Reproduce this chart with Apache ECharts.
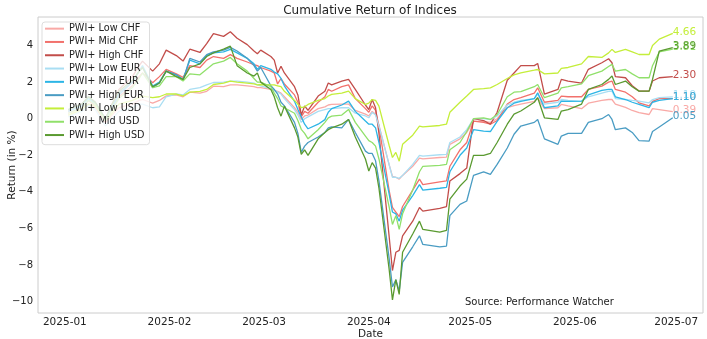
<!DOCTYPE html>
<html>
<head>
<meta charset="utf-8">
<script src="https://cdn.jsdelivr.net/npm/echarts@6/dist/echarts.min.js"></script>
<style>
  html, body { margin: 0; padding: 0; background: #fff; }
  #chart { width: 707px; height: 339px; }
</style>
</head>
<body>
<div id="chart"></div>
<script>
// Trading dates sampled across H1 2025
const dates = [
  '2025-01-02','2025-01-06','2025-01-08','2025-01-10','2025-01-13','2025-01-15','2025-01-17','2025-01-21','2025-01-23','2025-01-24',
  '2025-01-27','2025-01-29','2025-01-31','2025-02-03','2025-02-05','2025-02-07','2025-02-10','2025-02-12','2025-02-14','2025-02-17',
  '2025-02-19','2025-02-21','2025-02-24','2025-02-26','2025-02-27','2025-02-28',
  '2025-03-03','2025-03-04','2025-03-05','2025-03-06','2025-03-07','2025-03-10','2025-03-11','2025-03-12','2025-03-13','2025-03-14',
  '2025-03-17','2025-03-19','2025-03-20','2025-03-21','2025-03-24','2025-03-26','2025-03-28','2025-03-31','2025-04-01','2025-04-02',
  '2025-04-03','2025-04-04','2025-04-07','2025-04-08','2025-04-09','2025-04-10','2025-04-11','2025-04-14','2025-04-16','2025-04-17',
  '2025-04-22','2025-04-24','2025-04-25','2025-04-28','2025-04-30','2025-05-02',
  '2025-05-05','2025-05-07','2025-05-09','2025-05-12','2025-05-14','2025-05-16','2025-05-20','2025-05-21','2025-05-23','2025-05-27',
  '2025-05-28','2025-05-30','2025-06-03','2025-06-05',
  '2025-06-09','2025-06-11','2025-06-12','2025-06-13','2025-06-16','2025-06-18','2025-06-20','2025-06-23','2025-06-24','2025-06-26','2025-06-30'
];

// Cumulative returns in %
const lowCHF = [
  0.2, 0.5, 0.8, 0.6, -0.2, 0.2, 0.6, 0.8, 1.0, 1.05,
  0.85, 1.0, 1.25, 1.3, 1.2, 1.45, 1.4, 1.5, 1.78, 1.75,
  1.85, 1.85, 1.8, 1.75, 1.7, 1.7,
  1.6, 1.55, 1.5, 1.4, 1.2, 0.6, 0.35, -0.04, 0.15, 0.2,
  0.55, 0.65, 0.75, 0.78, 0.8, 0.8, 0.45, 0.25, 0.15, 0.4,
  0.25, -0.35, -2.5, -3.15, -3.2, -3.3, -3.1, -2.6, -2.15, -2.2,
  -2.12, -2.1, -1.4, -1.1, -0.75, -0.15,
  -0.15, -0.2, 0.0, 0.6, 0.72, 0.8, 0.95, 1.15, 0.55, 0.6,
  0.78, 0.7, 0.55, 0.85,
  1.0, 1.05, 1.05, 0.8, 0.62, 0.45, 0.33, 0.23, 0.55, 0.5, 0.39
];
const midCHF = [
  0.3, 0.6, 1.0, 0.7, -0.2, 0.5, 1.2, 1.8, 2.3, 2.5,
  1.97, 2.3, 2.7, 2.45, 2.26, 2.9, 2.8, 3.2, 3.4, 3.3,
  3.5, 3.3, 3.1, 2.95, 2.9, 2.8,
  2.6, 2.5, 1.9, 2.2, 1.9, 1.3, 0.9, 0.1, 0.4, 0.3,
  0.9, 1.2, 1.6, 1.5, 1.75, 1.85, 1.1, 0.55, 0.35, 0.7,
  0.45, -0.4, -3.9, -4.85, -5.1, -5.35, -4.8, -3.9, -3.3, -3.6,
  -3.45, -3.4, -2.6, -1.7, -1.3, -0.13,
  -0.2, -0.3, -0.1, 0.8, 1.05, 1.15, 1.4, 1.69, 0.9, 1.0,
  1.24, 1.2, 1.2, 1.6,
  1.78, 2.0, 2.06, 1.6, 1.45, 1.2, 0.87, 0.7, 0.95, 1.1, 1.10
];
const highCHF = [
  0.4, 0.8, 1.2, 0.9, 0.0, 0.8, 1.6, 2.3, 2.9, 3.15,
  2.6, 3.0, 3.75, 3.45, 3.15, 3.8, 3.62, 4.1, 4.65, 4.5,
  4.75, 4.4, 4.05, 3.7, 3.55, 3.75,
  3.4, 3.2, 2.5, 2.87, 2.5, 1.75, 1.3, 0.2, 0.7, 0.45,
  1.24, 1.5, 1.95, 1.85, 2.05, 2.15, 1.6, 0.75, 0.5, 1.05,
  0.6, -0.8, -6.4, -8.3, -7.3, -7.2, -6.4, -5.6, -4.85, -5.05,
  -4.9, -4.8, -3.4, -3.0, -2.7, 0.0,
  -0.1, -0.3, 0.35, 2.1, 2.5, 2.9, 2.9, 3.02, 1.35, 1.6,
  2.15, 2.05, 1.95, 2.7,
  3.06, 3.28, 3.06, 2.3, 2.24, 1.8, 1.51, 1.51, 2.06, 2.24, 2.30
];
const lowEUR = [
  0.1, 0.4, 0.7, 0.5, -0.4, 0.0, 0.4, 0.6, 0.8, 0.8,
  0.6, 0.65, 1.2, 1.35, 1.3, 1.6, 1.7, 1.85, 1.98, 2.0,
  2.05, 2.05, 2.0, 1.95, 1.85, 1.8,
  1.65, 1.55, 1.45, 1.35, 1.1, 0.5, 0.2, -0.2, 0.0, 0.1,
  0.4, 0.5, 0.55, 0.55, 0.6, 0.6, 0.3, 0.15, 0.05, 0.35,
  0.2, -0.4, -2.5, -3.2, -3.2, -3.26, -3.1, -2.5, -2.0, -2.05,
  -1.97, -1.95, -1.3, -1.0, -0.6, 0.0,
  0.0, -0.05, 0.15, 0.75, 0.9, 1.0, 1.1, 1.33, 0.8, 0.9,
  1.05, 1.0, 0.95, 1.2,
  1.4, 1.5, 1.5, 1.1, 1.05, 1.0, 0.96, 0.87, 1.05, 1.15, 1.19
];
const midEUR = [
  0.4, 0.7, 1.1, 0.8, -0.1, 0.6, 1.3, 2.0, 2.6, 2.9,
  1.78, 2.0, 2.6, 2.4, 2.15, 3.2, 3.0, 3.45, 3.6, 3.65,
  3.79, 3.6, 3.3, 3.0, 2.7, 2.9,
  2.7, 2.55, 2.45, 2.2, 1.8, 0.95, 0.5, 0.1, -0.3, -0.55,
  -0.3, -0.05, 0.35, 0.55, 0.75, 0.96, 0.4, -0.13, -0.3, -0.3,
  -0.5, -1.3, -4.1, -5.1, -5.2, -5.6, -5.0, -4.2, -3.6, -3.9,
  -3.8, -3.75, -2.9, -2.0, -1.6, -0.6,
  -0.68, -0.7, -0.15, 0.6, 0.85, 0.95, 1.1, 1.42, 0.6, 0.7,
  0.96, 0.95, 0.96, 1.3,
  1.55, 1.6, 1.6, 1.2, 1.05, 0.9, 0.78, 0.6, 0.9, 1.0, 1.10
];
const highEUR = [
  0.5, 0.8, 1.2, 0.9, 0.0, 0.7, 1.4, 2.0, 2.6, 2.8,
  1.7, 1.95, 2.6, 2.4, 2.1, 3.3, 3.1, 3.5, 3.65, 3.75,
  3.9, 3.7, 3.3, 2.9, 2.6, 2.8,
  1.8, 1.6, 1.35, 0.9, 0.7, -0.2, -0.8, -1.84, -1.5, -1.3,
  -1.0, -0.75, -0.5, -0.45, -0.5, -0.04, -0.75, -1.77, -1.9, -1.9,
  -2.3, -3.4, -7.6, -9.2, -8.8, -9.42, -7.85, -7.0, -6.4, -6.87,
  -7.0, -6.96, -5.3, -4.68, -4.5, -3.1,
  -2.9, -3.04, -2.5, -1.6, -0.85, -0.4, -0.2, -0.04, -1.1, -1.4,
  -0.95, -0.8, -0.8, -0.2,
  0.0, 0.23, -0.04, -0.6, -0.5, -0.75, -1.2, -1.22, -0.7, -0.45, 0.05
];
const lowUSD = [
  0.2, 0.5, 0.8, 0.7, -0.1, 0.3, 0.8, 1.0, 1.15, 1.24,
  1.15, 1.2, 1.35, 1.35, 1.25, 1.45, 1.5, 1.6, 1.87, 1.95,
  2.05, 2.0, 1.95, 1.9, 1.85, 1.87,
  1.85, 1.85, 1.8, 1.75, 1.5, 1.0, 0.8, 0.61, 0.65, 0.78,
  1.0, 1.1, 1.24, 1.33, 1.4, 1.51, 1.1, 0.78, 0.85, 1.05,
  1.0, 0.69, -1.45, -2.12, -1.84, -2.32, -1.4, -0.9, -0.4, -0.45,
  -0.37, -0.3, 0.35, 0.9, 1.24, 1.6,
  1.65, 1.69, 1.87, 2.2, 2.4, 2.5, 2.65, 2.69, 2.45, 2.5,
  2.75, 2.8, 3.0, 3.4,
  3.35, 3.6, 3.79, 3.62, 3.79, 3.65, 3.51, 3.51, 4.0, 4.35, 4.66
];
const midUSD = [
  0.3, 0.6, 1.0, 0.8, -0.1, 0.5, 1.1, 1.7, 2.2, 2.5,
  1.7, 1.8, 2.3, 2.3, 2.06, 2.45, 2.4, 2.7, 3.0, 3.15,
  3.35, 3.0, 2.6, 2.2, 2.0, 2.0,
  1.75, 1.4, 1.1, 0.7, 0.6, 0.3, -0.1, -0.58, -0.8, -1.1,
  -0.6, -0.2, 0.05, 0.14, 0.2, 0.51, -0.2, -0.95, -1.2, -1.3,
  -1.5, -2.2, -4.8, -5.78, -5.3, -6.05, -5.2, -3.9, -2.9, -2.6,
  -2.55, -2.5, -1.7, -1.3, -0.7, 0.0,
  0.05, -0.04, 0.23, 1.2, 1.45, 1.48, 1.75, 1.87, 1.15, 1.4,
  1.69, 1.75, 1.9, 2.35,
  2.6, 2.85, 2.97, 2.6, 2.69, 2.45, 2.24, 2.24, 2.9, 3.65, 3.81
];
const highUSD = [
  0.5, 0.8, 1.2, 0.9, 0.0, 0.8, 1.5, 2.1, 2.6, 2.8,
  1.75, 1.95, 2.6, 2.3, 2.15, 2.8, 3.0, 3.4, 3.6, 3.8,
  3.97, 2.9, 2.5, 2.33, 2.5, 2.0,
  1.6, 1.2, 0.6, 0.14, 0.69, -0.5, -1.0, -1.95, -1.7, -2.0,
  -1.1, -0.75, -0.6, -0.5, -0.3, -0.04, -1.0, -2.2, -2.86, -2.4,
  -2.7, -3.8, -8.2, -9.9, -8.8, -9.6, -7.3, -6.3, -5.6, -6.05,
  -6.2, -6.1, -4.4, -3.68, -3.3, -2.0,
  -2.0, -1.9, -1.3, -0.3, 0.25, 0.42, 0.9, 1.15, 0.05, -0.04,
  0.42, 0.5, 0.8, 1.6,
  1.87, 2.15, 2.33, 1.87, 2.06, 1.75, 1.51, 1.51, 2.15, 3.69, 3.89
];

const seriesNames = [
  'PWI+ Low CHF', 'PWI+ Mid CHF', 'PWI+ High CHF',
  'PWI+ Low EUR', 'PWI+ Mid EUR', 'PWI+ High EUR',
  'PWI+ Low USD', 'PWI+ Mid USD', 'PWI+ High USD'
];
const seriesValues = [lowCHF, midCHF, highCHF, lowEUR, midEUR, highEUR, lowUSD, midUSD, highUSD];
const seriesColors = [
  '#f9a9a6', '#f2716c', '#c24d4a',
  '#a9def3', '#2cb5e6', '#4a9cc3',
  '#c4ee3a', '#90e06a', '#5a9a30'
];

const monthTicks = ['2025-01', '2025-02', '2025-03', '2025-04', '2025-05', '2025-06', '2025-07'];
const yTicks = [-10, -8, -6, -4, -2, 0, 2, 4];

const FONT = 'DejaVu Sans';
const toTime = s => new Date(s + 'T00:00:00').getTime();
const monthTimes = monthTicks.map(m => toTime(m + '-01'));

// x range padded by 5% of the data span on both sides
const t0 = toTime(dates[0]);
const t1 = toTime(dates[dates.length - 1]);
const pad = (t1 - t0) * 0.05;

const chart = echarts.init(document.getElementById('chart'), null, { renderer: 'canvas' });

const series = seriesNames.map((name, i) => ({
  name,
  type: 'line',
  data: dates.map((d, k) => [toTime(d), seriesValues[i][k]]),
  showSymbol: false,
  symbol: 'none',
  lineStyle: { width: 1.3, color: seriesColors[i] },
  itemStyle: { color: seriesColors[i] },
  emphasis: { disabled: true },
  endLabel: {
    show: true,
    formatter: p => p.value[1].toFixed(2),
    color: seriesColors[i],
    fontFamily: FONT,
    fontSize: 10.5,
    distance: 0,
    offset: [0, -1.5]
  }
}));

chart.setOption({
  animation: false,
  backgroundColor: '#ffffff',
  grid: {
    left: 38, right: 4, top: 17, bottom: 26,
    containLabel: false,
    outerBoundsMode: 'none',
    show: true, borderColor: '#cccccc', borderWidth: 1,
    backgroundColor: 'transparent'
  },
  legend: {
    data: seriesNames,
    orient: 'vertical',
    left: 42, top: 22,
    icon: 'rect',
    itemWidth: 19, itemHeight: 2,
    itemGap: 0,
    padding: [0, 5, 3, 3],
    backgroundColor: 'rgba(255,255,255,0.8)',
    borderColor: '#dddddd', borderWidth: 1, borderRadius: 3,
    textStyle: { fontFamily: FONT, fontSize: 9.7, color: '#222', lineHeight: 13.3 },
    selectedMode: false
  },
  xAxis: {
    type: 'value',
    min: t0 - pad,
    max: t1 + pad,
    name: 'Date',
    nameLocation: 'middle',
    nameGap: 16,
    nameMoveOverlap: false,
    nameTextStyle: { fontFamily: FONT, fontSize: 10.5, color: '#222' },
    axisLine: { show: false },
    axisTick: { show: false },
    splitLine: { show: false },
    axisLabel: {
      customValues: monthTimes,
      formatter: v => {
        const idx = monthTimes.indexOf(v);
        return idx >= 0 ? monthTicks[idx] : '';
      },
      fontFamily: FONT, fontSize: 10.5, color: '#222', margin: 4,
      showMinLabel: true, showMaxLabel: true
    }
  },
  yAxis: {
    type: 'value',
    min: -10.62,
    max: 5.56,
    name: 'Return (in %)',
    nameLocation: 'middle',
    nameGap: 20,
    nameMoveOverlap: false,
    nameRotate: 90,
    nameTextStyle: { fontFamily: FONT, fontSize: 10.5, color: '#222' },
    axisLine: { show: false },
    axisTick: { show: false },
    splitLine: { show: false },
    axisLabel: {
      customValues: yTicks,
      formatter: v => (v < 0 ? '\u2212' + Math.abs(v) : String(v)),
      fontFamily: FONT, fontSize: 10, color: '#222', margin: 5
    }
  },
  graphic: [
    {
      type: 'text', x: 370, y: 5,
      style: { text: 'Cumulative Return of Indices', fontFamily: FONT, fontSize: 12, fill: '#222', align: 'center' }
    },
    {
      type: 'text', left: 465, top: 297,
      style: { text: 'Source: Performance Watcher', fontFamily: FONT, fontSize: 10, fill: '#222' }
    }
  ],
  series
});
</script>
</body>
</html>
